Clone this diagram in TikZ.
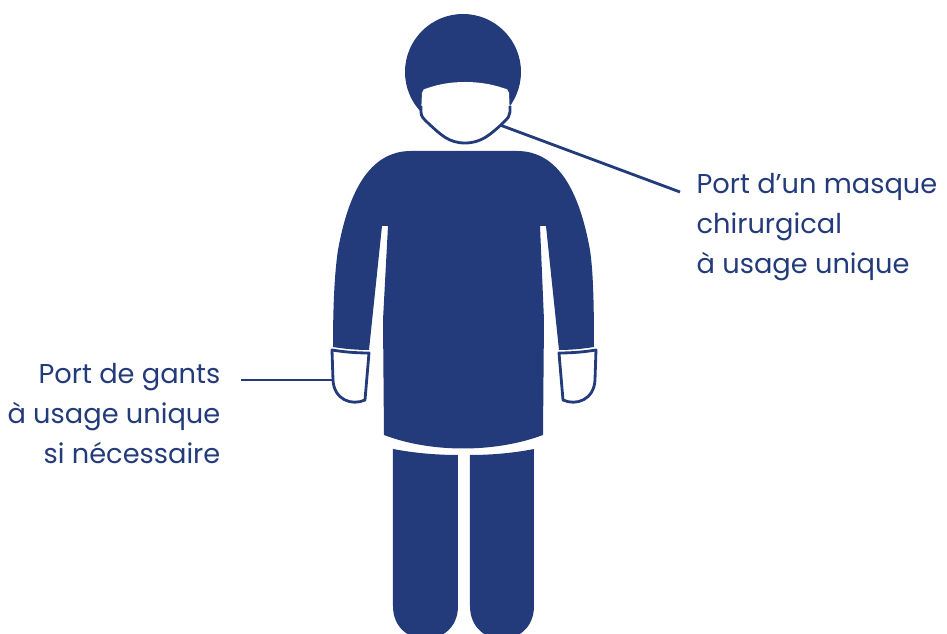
\documentclass[tikz,border=0pt]{standalone}
\usepackage{fontspec}
\setmainfont{Poppins}
\usetikzlibrary{calc}
\definecolor{GownClr}{rgb}{0.137,0.231,0.478}

\tikzset{
  gown/.style={fill=GownClr,draw=none},
  trim/.style={draw=GownClr,line width=0.8pt,line join=round},
  legend/.style={text=GownClr,font=\fontsize{7.75}{11.3}\selectfont,inner sep=0pt},
}

\begin{document}
\begin{tikzpicture}[x=0.01cm,y=-0.01cm]
\useasboundingbox (0,0) rectangle (947,634);

% head and mask
\fill[gown] (463,72) circle (58);
\fill[white] (422,93) .. controls (422,90) and (424,89) .. (428,88)
  .. controls (450,80) and (480,80) .. (503,88)
  .. controls (507,89) and (509,90) .. (509,93)
  -- (510,115) .. controls (495,128) and (485,143) .. (465,143)
  .. controls (445,143) and (435,128) .. (421,115) -- cycle;
\draw[trim] (421,106) -- (421,112) .. controls (421,117) and (424,119) .. (428,123)
  .. controls (441,135) and (449,143) .. (465,143)
  .. controls (481,143) and (490,135) .. (503,123)
  .. controls (508,118) and (510,116) .. (510,112) -- (510,106);

% gown
\fill[gown] (411,151) -- (517,151)
  .. controls (560,151) and (580,195) .. (590,250)
  .. controls (593,270) and (594,300) .. (594,347)
  .. controls (582,349) and (570,350) .. (559,350)
  -- (546,226) -- (540,226) -- (544,320) -- (543,435)
  .. controls (495,453) and (431,453) .. (384,435)
  -- (383,320) -- (388,226) -- (382,226) -- (369,350)
  .. controls (357,350) and (345,349) .. (333,347)
  .. controls (333,300) and (335,270) .. (338,250)
  .. controls (348,195) and (368,151) .. (411,151) -- cycle;

% legs
\fill[gown] (393,449) .. controls (414,453) and (436,455) .. (458,455)
  -- (458,606) .. controls (458,650) and (393,650) .. (393,606) -- cycle;
\fill[gown] (470,455) .. controls (492,455) and (514,453) .. (534,449)
  -- (534,606) .. controls (534,650) and (470,650) .. (470,606) -- cycle;

% gloves
\draw[trim] (332,350) .. controls (344,352) and (356,353) .. (369,353)
  -- (365,400) .. controls (352,406) and (334,400) .. (333,380) -- cycle;
\draw[trim] (596,350) .. controls (584,352) and (572,353) .. (559,353)
  -- (563,400) .. controls (576,406) and (594,400) .. (595,380) -- cycle;

\node[legend,anchor=north west,align=left] (mask) at (696,173)
  {Port d’un masque\\chirurgical\\à usage unique};
\node[legend,anchor=north east,align=right] (gloves) at (221,363)
  {Port de gants\\à usage unique\\si nécessaire};
\coordinate (chin) at (500,125);
\coordinate (maskend) at (680,192);
\coordinate (glovesend) at (241,380);
\coordinate (hand) at (332,380);
\draw[trim] (chin) -- (maskend);
\draw[trim] (glovesend) -- (hand);

\end{tikzpicture}
\end{document}
